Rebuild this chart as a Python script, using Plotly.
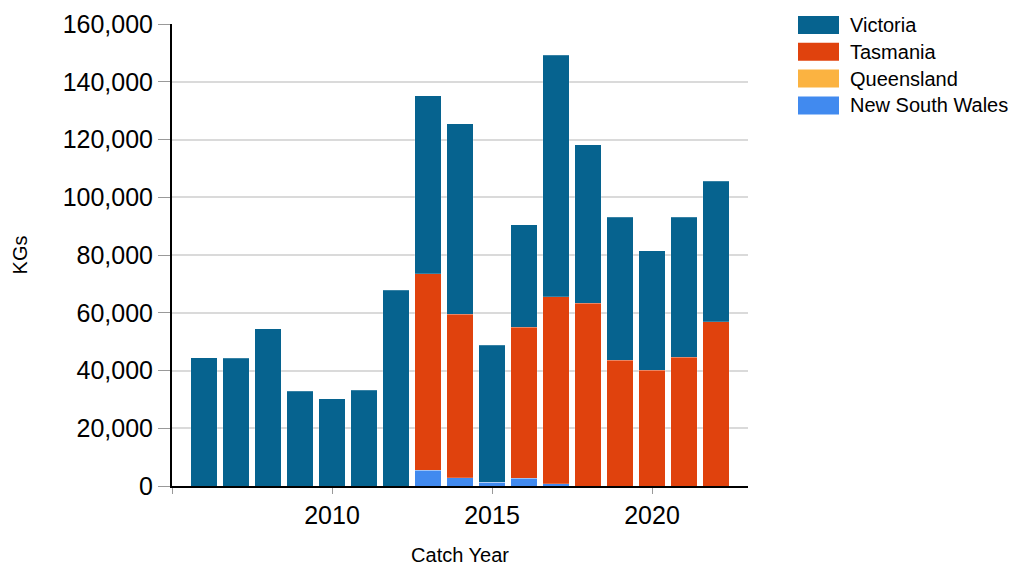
import plotly.graph_objects as go

years = list(range(2006, 2023))
victoria = [44500, 44300, 54450, 32830, 30300, 33080, 67870, 61800, 65900, 47400,
            35600, 83650, 54800, 49500, 41280, 48565, 48710]
tasmania = [0, 0, 0, 0, 0, 0, 0, 67900, 56650, 0,
            52170, 64850, 63360, 43590, 40120, 44525, 56870]
queensland = [0] * 17
nsw = [0, 0, 0, 0, 0, 0, 0, 5530, 2900, 1270,
       2760, 700, 0, 0, 0, 0, 0]

series_names = ["New South Wales", "Queensland", "Tasmania", "Victoria"]
series_vals = [nsw, queensland, tasmania, victoria]
colors = {"Victoria": "#06638F", "Tasmania": "#E0420D",
          "Queensland": "#FBB341", "New South Wales": "#418AEF"}

FONT = "Liberation Sans, Arial, sans-serif"
W, H = 1017, 570
L, R, T, B = 172, 269, 24, 84

fig = go.Figure()
for name, vals in zip(series_names, series_vals):
    fig.add_trace(go.Bar(
        x=years, y=vals, name=name, showlegend=False,
        marker=dict(color=colors[name], line=dict(color="rgba(255,255,255,0.2)", width=1)),
    ))

# custom legend (wide swatches)
def px_x(px):
    return (px - L) / (W - L - R)

def px_y(py):
    return (H - B - py) / (H - T - B)

legend_order = ["Victoria", "Tasmania", "Queensland", "New South Wales"]
shapes = []
annotations = []
for i, name in enumerate(legend_order):
    cy = 25 + i * 26.8
    shapes.append(dict(type="rect", xref="paper", yref="paper",
                       x0=px_x(798), x1=px_x(839), y0=px_y(cy - 9), y1=px_y(cy + 9),
                       fillcolor=colors[name], line=dict(width=0)))
    annotations.append(dict(text=name, xref="paper", yref="paper",
                            x=px_x(848), y=px_y(cy), xanchor="left", yanchor="middle",
                            showarrow=False, font=dict(family=FONT, size=20, color="#000")))

fig.update_layout(
    width=W, height=H,
    margin=dict(l=L, r=R, t=T, b=B, autoexpand=False),
    barmode="stack", bargap=0.17,
    plot_bgcolor="white", paper_bgcolor="white",
    font=dict(family=FONT, color="#000"),
    shapes=shapes, annotations=annotations,
    xaxis=dict(
        range=[2005, 2023], tickvals=[2005, 2010, 2015, 2020],
        ticktext=["", "2010", "2015", "2020"],
        ticks="outside", ticklen=6, tickcolor="#999", tickwidth=1,
        showline=True, linecolor="#000", linewidth=2, showgrid=False,
        tickfont=dict(size=25, family=FONT, color="#000"),
        title=dict(text="Catch Year", font=dict(size=20, family=FONT, color="#000"), standoff=20),
        automargin=False,
    ),
    yaxis=dict(
        range=[0, 160000], dtick=20000, tickformat=",d",
        ticks="outside", ticklen=12, tickcolor="#999", tickwidth=1,
        showline=True, linecolor="#000", linewidth=2,
        showgrid=True, gridcolor="#dadada", gridwidth=2, zeroline=False,
        tickfont=dict(size=25, family=FONT, color="#000"),
        title=dict(text="KGs", font=dict(size=20, family=FONT, color="#000"), standoff=30),
        automargin=False,
    ),
)

fig.write_html("out.html")
